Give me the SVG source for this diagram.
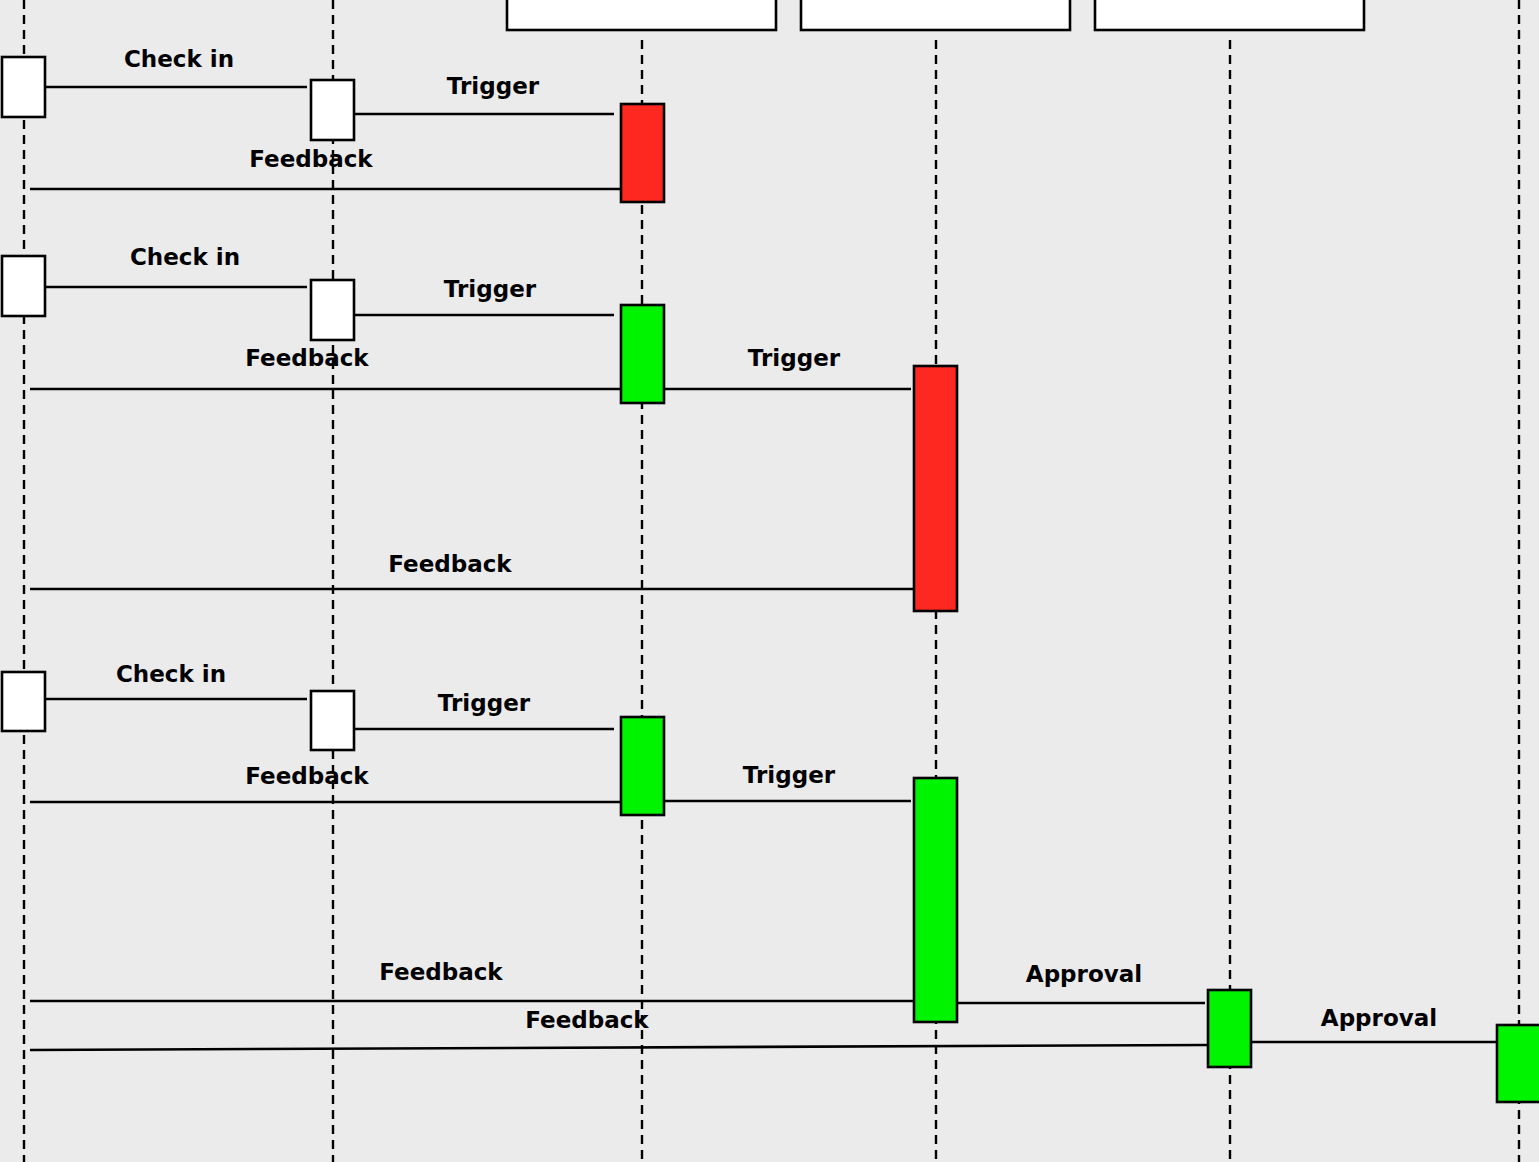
<svg xmlns="http://www.w3.org/2000/svg" width="1539" height="1162" viewBox="0 0 1539 1162">
  <style>
    .life { stroke: #000; stroke-width: 2.4; stroke-dasharray: 9 6; fill: none; }
    .head { fill: #fff; stroke: #000; stroke-width: 2.6; }
    .act { stroke: #000; stroke-width: 2.6; }
    .white { fill: #fff; }
    .red { fill: #ff2820; }
    .green { fill: #00f400; }
    .msg { stroke: #000; stroke-width: 2.6; fill: none; }
    text { font-family: "DejaVu Sans", "Liberation Sans", sans-serif; font-weight: bold; font-size: 23px; fill: #000; text-anchor: middle; }
  </style>
  <rect x="0" y="0" width="1539" height="1162" fill="#ebebeb"/>

  <!-- lifelines -->
  <g id="lifelines">
    <line class="life" x1="24" y1="0" x2="24" y2="1162"/>
    <line class="life" x1="333" y1="0" x2="333" y2="1162"/>
    <line class="life" x1="642" y1="40" x2="642" y2="1162"/>
    <line class="life" x1="936" y1="40" x2="936" y2="1162"/>
    <line class="life" x1="1230" y1="40" x2="1230" y2="1162"/>
    <line class="life" x1="1519" y1="0" x2="1519" y2="1162"/>
  </g>

  <!-- header boxes -->
  <g id="head-a"><rect class="head" x="507" y="-10" width="269" height="40"/></g>
  <g id="head-b"><rect class="head" x="801" y="-10" width="269" height="40"/></g>
  <g id="head-c"><rect class="head" x="1095" y="-10" width="269" height="40"/></g>

  <!-- messages -->
  <g id="connectors">
    <line class="msg" x1="45" y1="87" x2="307" y2="87"/>
    <line class="msg" x1="354" y1="114" x2="614" y2="114"/>
    <line class="msg" x1="30" y1="189" x2="621" y2="189"/>

    <line class="msg" x1="45" y1="287" x2="307" y2="287"/>
    <line class="msg" x1="354" y1="315" x2="614" y2="315"/>
    <line class="msg" x1="30" y1="389" x2="621" y2="389"/>
    <line class="msg" x1="664" y1="389" x2="911" y2="389"/>
    <line class="msg" x1="30" y1="589" x2="914" y2="589"/>

    <line class="msg" x1="45" y1="699" x2="307" y2="699"/>
    <line class="msg" x1="354" y1="729" x2="614" y2="729"/>
    <line class="msg" x1="30" y1="802" x2="621" y2="802"/>
    <line class="msg" x1="664" y1="801" x2="911" y2="801"/>
    <line class="msg" x1="30" y1="1001" x2="914" y2="1001"/>
    <line class="msg" x1="957" y1="1003" x2="1205" y2="1003"/>
    <line class="msg" x1="30" y1="1050" x2="1208" y2="1045"/>
    <line class="msg" x1="1251" y1="1042" x2="1497" y2="1042"/>
  </g>

  <!-- activations: first round -->
  <g id="act-1a"><rect class="act white" x="2" y="57" width="43" height="60"/></g>
  <g id="act-1b"><rect class="act white" x="311" y="80" width="43" height="60"/></g>
  <g id="act-1c"><rect class="act red" x="621" y="104" width="43" height="98"/></g>

  <!-- activations: second round -->
  <g id="act-2a"><rect class="act white" x="2" y="256" width="43" height="60"/></g>
  <g id="act-2b"><rect class="act white" x="311" y="280" width="43" height="60"/></g>
  <g id="act-2c"><rect class="act green" x="621" y="305" width="43" height="98"/></g>
  <g id="act-2d"><rect class="act red" x="914" y="366" width="43" height="245"/></g>

  <!-- activations: third round -->
  <g id="act-3a"><rect class="act white" x="2" y="672" width="43" height="59"/></g>
  <g id="act-3b"><rect class="act white" x="311" y="691" width="43" height="59"/></g>
  <g id="act-3c"><rect class="act green" x="621" y="717" width="43" height="98"/></g>
  <g id="act-3d"><rect class="act green" x="914" y="778" width="43" height="244"/></g>
  <g id="act-3e"><rect class="act green" x="1208" y="990" width="43" height="77"/></g>
  <g id="act-3f"><rect class="act green" x="1497" y="1025" width="50" height="77"/></g>

  <!-- labels -->
  <g id="labels">
    <text x="179" y="67">Check in</text>
    <text x="493" y="94">Trigger</text>
    <text x="311" y="167">Feedback</text>

    <text x="185" y="265">Check in</text>
    <text x="490" y="297">Trigger</text>
    <text x="307" y="366">Feedback</text>
    <text x="794" y="366">Trigger</text>
    <text x="450" y="572">Feedback</text>

    <text x="171" y="682">Check in</text>
    <text x="484" y="711">Trigger</text>
    <text x="307" y="784">Feedback</text>
    <text x="789" y="783">Trigger</text>
    <text x="441" y="980">Feedback</text>
    <text x="1084" y="982">Approval</text>
    <text x="587" y="1028">Feedback</text>
    <text x="1379" y="1026">Approval</text>
  </g>
</svg>
